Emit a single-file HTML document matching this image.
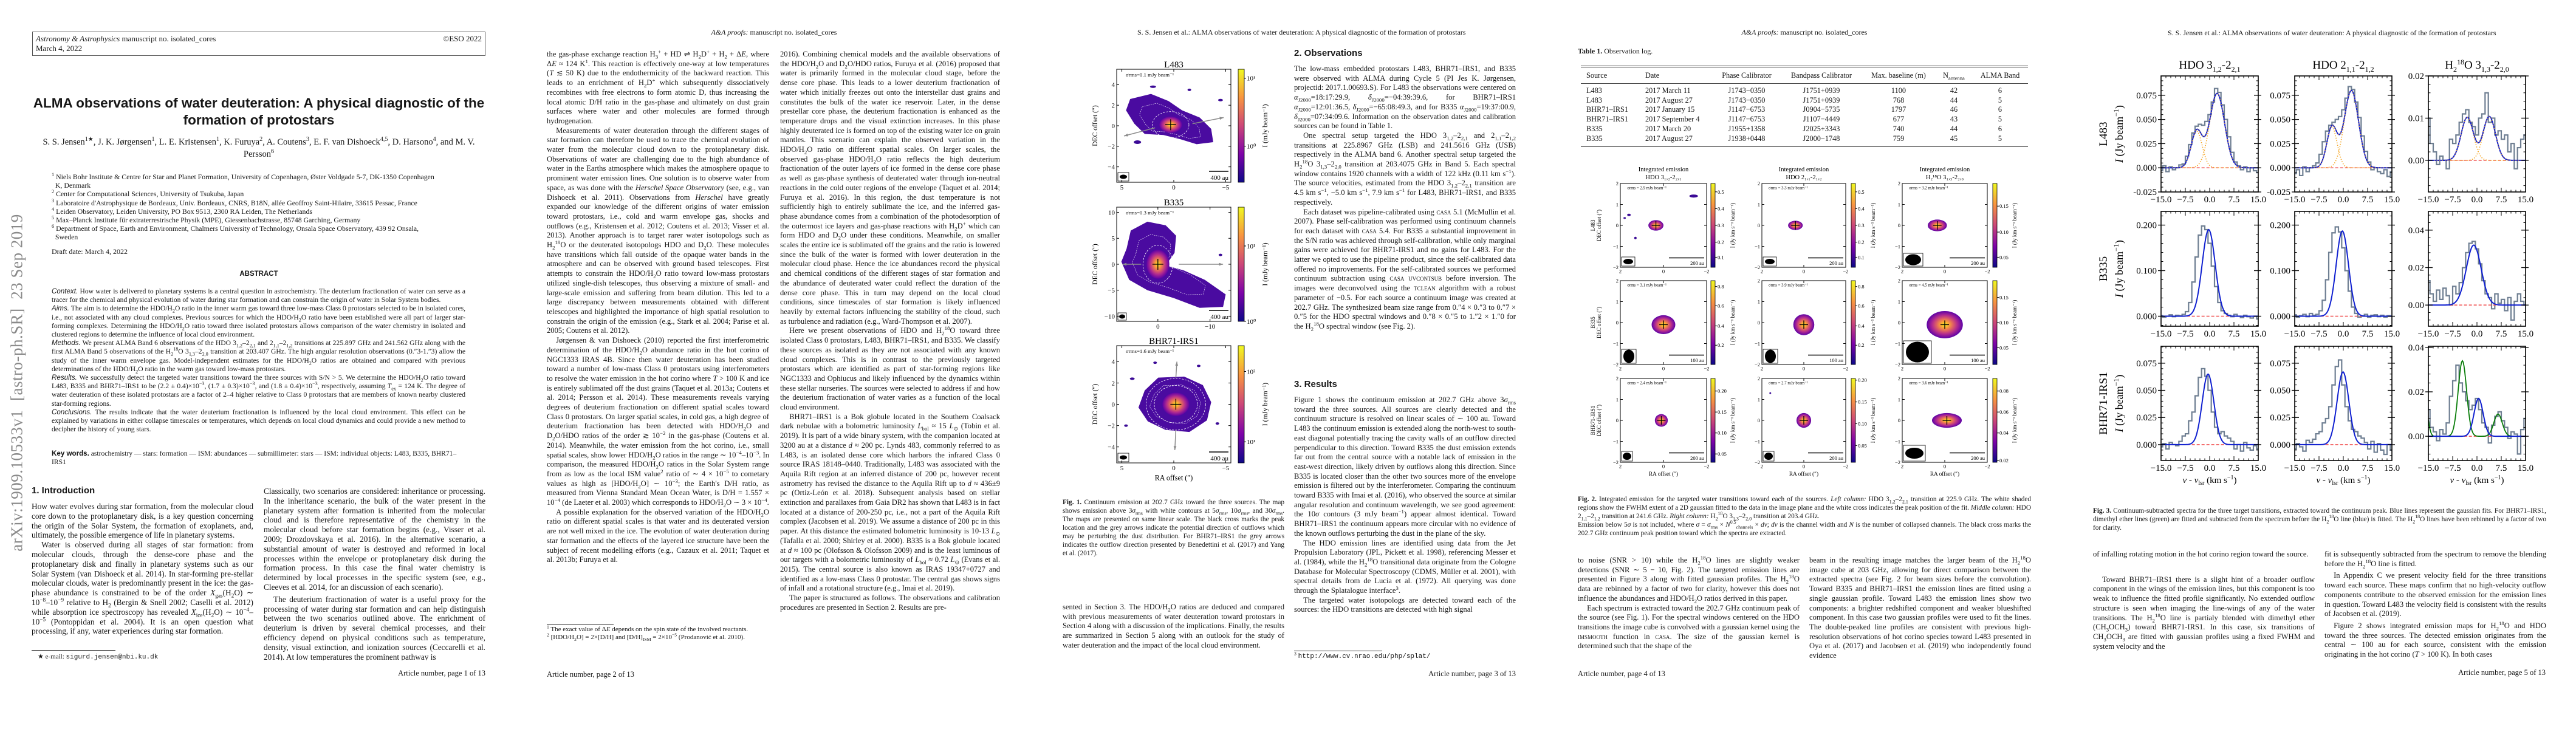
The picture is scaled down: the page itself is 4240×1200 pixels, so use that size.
<!DOCTYPE html>
<html><head><meta charset="utf-8">
<style>
*{box-sizing:border-box}
body{margin:0;background:#fff}
#root{position:relative;width:4240px;height:1200px;overflow:hidden;background:#fff;font-family:"Liberation Serif",serif;color:#161616}
.abs{position:absolute}
.col{position:absolute;font-family:"Liberation Serif",serif;text-align:justify;overflow:hidden;font-size:12.6px;line-height:15.7px;hyphens:auto}
.col p{margin:0;text-indent:1.2em}
.col p.ni{text-indent:0}
sub,sup{line-height:0;font-size:70%}
.hdr{position:absolute;font-size:12px;text-align:center;white-space:nowrap}
.foot{position:absolute;font-size:12.5px;white-space:nowrap}
.sec{position:absolute;font-family:"Liberation Sans",sans-serif;font-weight:bold;font-size:15px}
.cap{position:absolute;font-size:11.3px;line-height:14px;text-align:justify;overflow:hidden}
.sc{font-variant:small-caps}
svg text{font-family:"Liberation Serif",serif}
</style></head>
<body>
<div id="root">

<!-- ================= PAGE 1 ================= -->
<div class="abs" style="left:53px;top:52px;width:746px;height:40px;border:1px solid #555;font-size:13px;line-height:16px;padding:3px 5px">
<div><i>Astronomy &amp; Astrophysics</i> manuscript no. isolated_cores<span style="float:right">©ESO 2022</span></div>
<div>March 4, 2022</div></div>
<div class="abs" style="left:40px;top:156px;width:772px;text-align:center;font-family:'Liberation Sans',sans-serif;font-weight:bold;font-size:22.5px;line-height:28px">ALMA observations of water deuteration: A physical diagnostic of the formation of protostars</div>
<div class="abs" style="left:52px;top:224px;width:748px;text-align:center;font-size:14.5px;line-height:20px">S. S. Jensen<sup>1★</sup>, J. K. Jørgensen<sup>1</sup>, L. E. Kristensen<sup>1</sup>, K. Furuya<sup>2</sup>, A. Coutens<sup>3</sup>, E. F. van Dishoeck<sup>4,5</sup>, D. Harsono<sup>4</sup>, and M. V. Persson<sup>6</sup></div>
<div class="abs" style="left:85px;top:284px;width:700px;font-size:11.8px;line-height:14.2px">
<div><sup>1</sup> Niels Bohr Institute &amp; Centre for Star and Planet Formation, University of Copenhagen, Øster Voldgade 5-7, DK-1350 Copenhagen<br>&nbsp;&nbsp;K, Denmark</div>
<div><sup>2</sup> Center for Computational Sciences, University of Tsukuba, Japan</div>
<div><sup>3</sup> Laboratoire d'Astrophysique de Bordeaux, Univ. Bordeaux, CNRS, B18N, allée Geoffroy Saint-Hilaire, 33615 Pessac, France</div>
<div><sup>4</sup> Leiden Observatory, Leiden University, PO Box 9513, 2300 RA Leiden, The Netherlands</div>
<div><sup>5</sup> Max–Planck Institute für extraterrestrische Physik (MPE), Giessenbachstrasse, 85748 Garching, Germany</div>
<div><sup>6</sup> Department of Space, Earth and Environment, Chalmers University of Technology, Onsala Space Observatory, 439 92 Onsala,<br>&nbsp;&nbsp;Sweden</div></div>
<div class="abs" style="left:85px;top:407px;font-size:12px">Draft date: March 4, 2022</div>
<div class="abs" style="left:52px;top:445px;width:748px;text-align:center;font-family:'Liberation Sans',sans-serif;font-weight:bold;font-size:11.5px">ABSTRACT</div>
<div class="col" style="left:85px;top:473px;width:681px;height:258px;font-size:11.6px;line-height:14.2px">
<p class="ni"><i style="font-family:'Liberation Sans'">Context.</i> How water is delivered to planetary systems is a central question in astrochemistry. The deuterium fractionation of water can serve as a tracer for the chemical and physical evolution of water during star formation and can constrain the origin of water in Solar System bodies.</p>
<p class="ni"><i style="font-family:'Liberation Sans'">Aims.</i> The aim is to determine the HDO/H<sub>2</sub>O ratio in the inner warm gas toward three low-mass Class 0 protostars selected to be in isolated cores, i.e., not associated with any cloud complexes. Previous sources for which the HDO/H<sub>2</sub>O ratio have been established were all part of larger star-forming complexes. Determining the HDO/H<sub>2</sub>O ratio toward three isolated protostars allows comparison of the water chemistry in isolated and clustered regions to determine the influence of local cloud environment.</p>
<p class="ni"><i style="font-family:'Liberation Sans'">Methods.</i> We present ALMA Band 6 observations of the HDO 3<sub>1,2</sub>–2<sub>2,1</sub> and 2<sub>1,1</sub>–2<sub>1,2</sub> transitions at 225.897 GHz and 241.562 GHz along with the first ALMA Band 5 observations of the H<sub>2</sub><sup>18</sup>O 3<sub>1,3</sub>–2<sub>2,0</sub> transition at 203.407 GHz. The high angular resolution observations (0.″3-1.″3) allow the study of the inner warm envelope gas. Model-independent estimates for the HDO/H<sub>2</sub>O ratios are obtained and compared with previous determinations of the HDO/H<sub>2</sub>O ratio in the warm gas toward low-mass protostars.</p>
<p class="ni"><i style="font-family:'Liberation Sans'">Results.</i> We successfully detect the targeted water transitions toward the three sources with S/N &gt; 5. We determine the HDO/H<sub>2</sub>O ratio toward L483, B335 and BHR71–IRS1 to be (2.2 ± 0.4)×10<sup>−3</sup>, (1.7 ± 0.3)×10<sup>−3</sup>, and (1.8 ± 0.4)×10<sup>−3</sup>, respectively, assuming <i>T</i><sub>ex</sub> = 124 K. The degree of water deuteration of these isolated protostars are a factor of 2–4 higher relative to Class 0 protostars that are members of known nearby clustered star-forming regions.</p>
<p class="ni"><i style="font-family:'Liberation Sans'">Conclusions.</i> The results indicate that the water deuterium fractionation is influenced by the local cloud environment. This effect can be explained by variations in either collapse timescales or temperatures, which depends on local cloud dynamics and could provide a new method to decipher the history of young stars.</p></div>
<div class="abs" style="left:85px;top:740px;width:681px;font-size:11.6px;line-height:14.2px"><b style="font-family:'Liberation Sans'">Key words.</b> astrochemistry — stars: formation — ISM: abundances — submillimeter: stars — ISM: individual objects: L483, B335, BHR71–IRS1</div>
<div class="sec" style="left:52px;top:799px">1. Introduction</div>
<div class="col" style="left:52px;top:826px;width:365px;height:238px;font-size:13.3px;line-height:15.8px">
<p class="ni">How water evolves during star formation, from the molecular cloud core down to the protoplanetary disk, is a key question concerning the origin of the Solar System, the formation of exoplanets, and, ultimately, the possible emergence of life in planetary systems.</p>
<p>Water is observed during all stages of star formation: from molecular clouds, through the dense-core phase and the protoplanetary disk and finally in planetary systems such as our Solar System (van Dishoeck et al. 2014). In star-forming pre-stellar molecular clouds, water is predominantly present in the ice: the gas-phase abundance is constrained to be of the order <i>X</i><sub>gas</sub>(H<sub>2</sub>O) ∼ 10<sup>−8</sup>–10<sup>−9</sup> relative to H<sub>2</sub> (Bergin &amp; Snell 2002; Caselli et al. 2012) while absorption ice spectroscopy has revealed <i>X</i><sub>ice</sub>(H<sub>2</sub>O) ∼ 10<sup>−4</sup>–10<sup>−5</sup> (Pontoppidan et al. 2004). It is an open question what processing, if any, water experiences during star formation.</p></div>
<div class="abs" style="left:52px;top:1070px;width:138px;border-top:1px solid #333"></div>
<div class="abs" style="left:62px;top:1074px;font-size:11px">★ e-mail: <span style="font-family:'Liberation Mono'">sigurd.jensen@nbi.ku.dk</span></div>
<div class="col" style="left:434px;top:801px;width:365px;height:286px;font-size:13.3px;line-height:15.8px">
<p class="ni">Classically, two scenarios are considered: inheritance or processing. In the inheritance scenario, the bulk of the water present in the planetary system after formation is inherited from the molecular cloud and is therefore representative of the chemistry in the molecular cloud before star formation begins (e.g., Visser et al. 2009; Drozdovskaya et al. 2016). In the alternative scenario, a substantial amount of water is destroyed and reformed in local processes within the envelope or protoplanetary disk during the formation process. In this case the final water chemistry is determined by local processes in the specific system (see, e.g., Cleeves et al. 2014, for an discussion of each scenario).</p>
<p style="margin-top:4px">The deuterium fractionation of water is a useful proxy for the processing of water during star formation and can help distinguish between the two scenarios outlined above. The enrichment of deuterium is driven by several chemical processes, and their efficiency depend on physical conditions such as temperature, density, visual extinction, and ionization sources (Ceccarelli et al. 2014). At low temperatures the prominent pathway is</p></div>
<div class="foot" style="left:599px;width:200px;text-align:right;top:1101px">Article number, page 1 of 13</div>
<div class="abs" style="left:28px;top:630px;transform:translate(-50%,-50%) rotate(-90deg);white-space:nowrap;font-size:27px;color:#8a8a8a;letter-spacing:0.5px">arXiv:1909.10533v1&nbsp; [astro-ph.SR]&nbsp; 23 Sep 2019</div>

<!-- ================= PAGE 2 ================= -->
<div class="hdr" style="left:1074px;width:400px;top:46px"><i>A&amp;A proofs:</i> manuscript no. isolated_cores</div>
<div class="col" style="left:900px;top:82px;width:366px;height:934px">
<p class="ni">the gas-phase exchange reaction H<sub>3</sub><sup>+</sup> + HD ⇌ H<sub>2</sub>D<sup>+</sup> + H<sub>2</sub> + Δ<i>E</i>, where Δ<i>E</i> ≈ 124 K<sup>1</sup>. This reaction is effectively one-way at low temperatures (<i>T</i> ≲ 50 K) due to the endothermicity of the backward reaction. This leads to an enrichment of H<sub>2</sub>D<sup>+</sup> which subsequently dissociatively recombines with free electrons to form atomic D, thus increasing the local atomic D/H ratio in the gas-phase and ultimately on dust grain surfaces where water and other molecules are formed through hydrogenation.</p>
<p>Measurements of water deuteration through the different stages of star formation can therefore be used to trace the chemical evolution of water from the molecular cloud down to the protoplanetary disk. Observations of water are challenging due to the high abundance of water in the Earths atmosphere which makes the atmosphere opaque to prominent water emission lines. One solution is to observe water from space, as was done with the <i>Herschel Space Observatory</i> (see, e.g., van Dishoeck et al. 2011). Observations from <i>Herschel</i> have greatly expanded our knowledge of the different origins of water emission toward protostars, i.e., cold and warm envelope gas, shocks and outflows (e.g., Kristensen et al. 2012; Coutens et al. 2013; Visser et al. 2013). Another approach is to target rarer water isotopologs such as H<sub>2</sub><sup>18</sup>O or the deuterated isotopologs HDO and D<sub>2</sub>O. These molecules have transitions which fall outside of the opaque water bands in the atmosphere and can be observed with ground based telescopes. First attempts to constrain the HDO/H<sub>2</sub>O ratio toward low-mass protostars utilized single-dish telescopes, thus observing a mixture of small- and large-scale emission and suffering from beam dilution. This led to a large discrepancy between measurements obtained with different telescopes and highlighted the importance of high spatial resolution to constrain the origin of the emission (e.g., Stark et al. 2004; Parise et al. 2005; Coutens et al. 2012).</p>
<p>Jørgensen &amp; van Dishoeck (2010) reported the first interferometric determination of the HDO/H<sub>2</sub>O abundance ratio in the hot corino of NGC1333 IRAS 4B. Since then water deuteration has been studied toward a number of low-mass Class 0 protostars using interferometers to resolve the water emission in the hot corino where <i>T</i> &gt; 100 K and ice is entirely sublimated off the dust grains (Taquet et al. 2013a; Coutens et al. 2014; Persson et al. 2014). These measurements reveals varying degrees of deuterium fractionation on different spatial scales toward Class 0 protostars. On larger spatial scales, in cold gas, a high degree of deuterium fractionation has been detected with HDO/H<sub>2</sub>O and D<sub>2</sub>O/HDO ratios of the order ≳ 10<sup>−2</sup> in the gas-phase (Coutens et al. 2014). Meanwhile, the water emission from the hot corino, i.e., small spatial scales, show lower HDO/H<sub>2</sub>O ratios in the range ∼ 10<sup>−4</sup>–10<sup>−3</sup>. In comparison, the measured HDO/H<sub>2</sub>O ratios in the Solar System range from as low as the local ISM value<sup>2</sup> ratio of ∼ 4 × 10<sup>−5</sup> to cometary values as high as [HDO/H<sub>2</sub>O] ∼ 10<sup>−3</sup>; the Earth's D/H ratio, as measured from Vienna Standard Mean Ocean Water, is D/H = 1.557 × 10<sup>−4</sup> (de Laeter et al. 2003) which corresponds to HDO/H<sub>2</sub>O ∼ 3 × 10<sup>−4</sup>.</p>
<p>A possible explanation for the observed variation of the HDO/H<sub>2</sub>O ratio on different spatial scales is that water and its deuterated version are not well mixed in the ice. The evolution of water deuteration during star formation and the effects of the layered ice structure have been the subject of recent modelling efforts (e.g., Cazaux et al. 2011; Taquet et al. 2013b; Furuya et al.</p></div>
<div class="abs" style="left:900px;top:1027px;width:110px;border-top:1px solid #333"></div>
<div class="abs" style="left:900px;top:1030px;width:366px;font-size:11px;line-height:12.5px;text-align:justify"><sup>1</sup> The exact value of Δ<i>E</i> depends on the spin state of the involved reactants.<br><sup>2</sup> [HDO/H<sub>2</sub>O] = 2×[D/H] and [D/H]<sub>ISM</sub> = 2×10<sup>−5</sup> (Prodanović et al. 2010).</div>
<div class="foot" style="left:900px;top:1103px">Article number, page 2 of 13</div>
<div class="col" style="left:1284px;top:82px;width:362px;height:1006px">
<p class="ni">2016). Combining chemical models and the available observations of the HDO/H<sub>2</sub>O and D<sub>2</sub>O/HDO ratios, Furuya et al. (2016) proposed that water is primarily formed in the molecular cloud stage, before the dense core phase. This leads to a lower deuterium fractionation of water which initially freezes out onto the interstellar dust grains and constitutes the bulk of the water ice reservoir. Later, in the dense prestellar core phase, the deuterium fractionation is enhanced as the temperature drops and the visual extinction increases. In this phase highly deuterated ice is formed on top of the existing water ice on grain mantles. This scenario can explain the observed variation in the HDO/H<sub>2</sub>O ratio on different spatial scales. On larger scales, the observed gas-phase HDO/H<sub>2</sub>O ratio reflects the high deuterium fractionation of the outer layers of ice formed in the dense core phase as well as gas-phase synthesis of deuterated water through ion-neutral reactions in the cold outer regions of the envelope (Taquet et al. 2014; Furuya et al. 2016). In this region, the dust temperature is not sufficiently high to entirely sublimate the ice, and the inferred gas-phase abundance comes from a combination of the photodesorption of the outermost ice layers and gas-phase reactions with H<sub>2</sub>D<sup>+</sup> which can form HDO and D<sub>2</sub>O under these conditions. Meanwhile, on smaller scales the entire ice is sublimated off the grains and the ratio is lowered since the bulk of the water is formed with lower deuteration in the molecular cloud phase. Hence the ice abundances record the physical and chemical conditions of the different stages of star formation and the abundance of deuterated water could reflect the duration of the dense core phase. This in turn may depend on the local cloud conditions, since timescales of star formation is likely influenced heavily by external factors influencing the stability of the cloud, such as turbulence and radiation (e.g., Ward-Thompson et al. 2007).</p>
<p>Here we present observations of HDO and H<sub>2</sub><sup>18</sup>O toward three isolated Class 0 protostars, L483, BHR71–IRS1, and B335. We classify these sources as isolated as they are not associated with any known cloud complexes. This is in contrast to the previously targeted protostars which are identified as part of star-forming regions like NGC1333 and Ophiucus and likely influenced by the dynamics within these stellar nurseries. The sources were selected to address if and how the deuterium fractionation of water varies as a function of the local cloud environment.</p>
<p>BHR71–IRS1 is a Bok globule located in the Southern Coalsack dark nebulae with a bolometric luminosity <i>L</i><sub>bol</sub> ≈ 15 <i>L</i><sub>⊙</sub> (Tobin et al. 2019). It is part of a wide binary system, with the companion located at 3200 au at a distance <i>d</i> ≈ 200 pc. Lynds 483, commonly referred to as L483, is an isolated dense core which harbors the infrared Class 0 source IRAS 18148–0440. Traditionally, L483 was associated with the Aquila Rift region at an inferred distance of 200 pc, however recent astrometry has revised the distance to the Aquila Rift up to <i>d</i> ≈ 436±9 pc (Ortiz-León et al. 2018). Subsequent analysis based on stellar extinction and parallaxes from Gaia DR2 has shown that L483 is in fact located at a distance of 200-250 pc, i.e., not a part of the Aquila Rift complex (Jacobsen et al. 2019). We assume a distance of 200 pc in this paper. At this distance the estimated bolometric luminosity is 10-13 <i>L</i><sub>⊙</sub> (Tafalla et al. 2000; Shirley et al. 2000). B335 is a Bok globule located at <i>d</i> ≈ 100 pc (Olofsson &amp; Olofsson 2009) and is the least luminous of our targets with a bolometric luminosity of <i>L</i><sub>bol</sub> ≈ 0.72 <i>L</i><sub>⊙</sub> (Evans et al. 2015). The central source is also known as IRAS 19347+0727 and identified as a low-mass Class 0 protostar. The central gas shows signs of infall and a rotational structure (e.g., Imai et al. 2019).</p>
<p>The paper is structured as follows. The observations and calibration procedures are presented in Section 2. Results are pre-</p></div>

<!-- ================= PAGE 3 ================= -->
<div class="hdr" style="left:1872px;width:500px;top:46px">S. S. Jensen et al.: ALMA observations of water deuteration: A physical diagnostic of the formation of protostars</div>
<svg class="abs" id="fig1" style="left:1690px;top:80px" width="460" height="720"></svg>
<div class="cap" style="left:1749px;top:820px;width:365px;height:100px"><b>Fig. 1.</b> Continuum emission at 202.7 GHz toward the three sources. The map shows emission above 3<i>σ</i><sub>rms</sub> with white contours at 5<i>σ</i><sub>rms</sub>, 10<i>σ</i><sub>rms</sub>, and 30<i>σ</i><sub>rms</sub>. The maps are presented on same linear scale. The black cross marks the peak location and the grey arrows indicate the potential direction of outflows which may be perturbing the dust distribution. For BHR71–IRS1 the grey arrows indicates the outflow direction presented by Benedettini et al. (2017) and Yang et al. (2017).</div>
<div class="col" style="left:1749px;top:992px;width:365px;height:96px">
<p class="ni">sented in Section 3. The HDO/H<sub>2</sub>O ratios are deduced and compared with previous measurements of water deuteration toward protostars in Section 4 along with a discussion of the implications. Finally, the results are summarized in Section 5 along with an outlook for the study of water deuteration and the impact of the local cloud environment.</p></div>
<div class="sec" style="left:2130px;top:79px">2. Observations</div>
<div class="col" style="left:2130px;top:106px;width:365px;height:488px">
<p class="ni">The low-mass embedded protostars L483, BHR71–IRS1, and B335 were observed with ALMA during Cycle 5 (PI Jes K. Jørgensen, projectid: 2017.1.00693.S). For L483 the observations were centered on <i>α</i><sub>J2000</sub>=18:17:29.9, <i>δ</i><sub>J2000</sub>=−04:39:39.6, for BHR71–IRS1 <i>α</i><sub>J2000</sub>=12:01:36.5, <i>δ</i><sub>J2000</sub>=−65:08:49.3, and for B335 <i>α</i><sub>J2000</sub>=19:37:00.9, <i>δ</i><sub>J2000</sub>=07:34:09.6. Information on the observation dates and calibration sources can be found in Table 1.</p>
<p>One spectral setup targeted the HDO 3<sub>1,2</sub>–2<sub>2,1</sub> and 2<sub>1,1</sub>–2<sub>1,2</sub> transitions at 225.8967 GHz (LSB) and 241.5616 GHz (USB) respectively in the ALMA band 6. Another spectral setup targeted the H<sub>2</sub><sup>18</sup>O 3<sub>1,3</sub>–2<sub>2,0</sub> transition at 203.4075 GHz in Band 5. Each spectral window contains 1920 channels with a width of 122 kHz (0.11 km s<sup>−1</sup>). The source velocities, estimated from the HDO 3<sub>1,2</sub>–2<sub>2,1</sub> transition are 4.5 km s<sup>−1</sup>, −5.0 km s<sup>−1</sup>, 7.9 km s<sup>−1</sup> for L483, BHR71–IRS1, and B335 respectively.</p>
<p>Each dataset was pipeline-calibrated using <span class="sc">casa</span> 5.1 (McMullin et al. 2007). Phase self-calibration was performed using continuum channels for each dataset with <span class="sc">casa</span> 5.4. For B335 a substantial improvement in the S/N ratio was achieved through self-calibration, while only marginal gains were achieved for BHR71-IRS1 and no gains for L483. For the latter we opted to use the pipeline product, since the self-calibrated data offered no improvements. For the self-calibrated sources we performed continuum subtraction using <span class="sc">casa uvcontsub</span> before inversion. The images were deconvolved using the <span class="sc">tclean</span> algorithm with a robust parameter of −0.5. For each source a continuum image was created at 202.7 GHz. The synthesized beam size range from 0.″4 × 0.″3 to 0.″7 × 0.″5 for the HDO spectral windows and 0.″8 × 0.″5 to 1.″2 × 1.″0 for the H<sub>2</sub><sup>18</sup>O spectral window (see Fig. 2).</p></div>
<div class="sec" style="left:2130px;top:624px">3. Results</div>
<div class="col" style="left:2130px;top:651px;width:365px;height:411px">
<p class="ni">Figure 1 shows the continuum emission at 202.7 GHz above 3<i>σ</i><sub>rms</sub> toward the three sources. All sources are clearly detected and the continuum structure is resolved on linear scales of ∼ 100 au. Toward L483 the continuum emission is extended along the north-west to south-east diagonal potentially tracing the cavity walls of an outflow directed perpendicular to this direction. Toward B335 the dust emission extends far out from the central source with a notable lack of emission in the east-west direction, likely driven by outflows along this direction. Since B335 is located closer than the other two sources more of the envelope emission is filtered out by the interferometer. Comparing the continuum toward B335 with Imai et al. (2016), who observed the source at similar angular resolution and continuum wavelength, we see good agreement: the 10<i>σ</i> contours (3 mJy beam<sup>−1</sup>) appear almost identical. Toward BHR71–IRS1 the continuum appears more circular with no evidence of the known outflows perturbing the dust in the plane of the sky.</p>
<p>The HDO emission lines are identified using data from the Jet Propulsion Laboratory (JPL, Pickett et al. 1998), referencing Messer et al. (1984), while the H<sub>2</sub><sup>18</sup>O transitional data originate from the Cologne Database for Molecular Spectroscopy (CDMS, Müller et al. 2001), with spectral details from de Lucia et al. (1972). All querying was done through the Splatalogue interface<sup>3</sup>.</p>
<p>The targeted water isotopologs are detected toward each of the sources: the HDO transitions are detected with high signal</p></div>
<div class="abs" style="left:2130px;top:1071px;width:145px;border-top:1px solid #333"></div>
<div class="abs" style="left:2130px;top:1074px;font-size:11px"><sup>3</sup> <span style="font-family:'Liberation Mono'">http://www.cv.nrao.edu/php/splat/</span></div>
<div class="foot" style="left:2295px;width:200px;text-align:right;top:1102px">Article number, page 3 of 13</div>

<!-- ================= PAGE 4 ================= -->
<div class="hdr" style="left:2770px;width:400px;top:46px"><i>A&amp;A proofs:</i> manuscript no. isolated_cores</div>
<div class="abs" style="left:2597px;top:77px;font-size:12px"><b>Table 1.</b> Observation log.</div>
<div class="abs" style="left:2602px;top:108px;width:736px;height:134px;border-top:3px double #444;border-bottom:1px solid #444;font-size:12.3px">
<div class="abs" style="left:0;top:26px;width:736px;border-top:1px solid #444"></div>
<div id="tbl"></div></div>
<svg class="abs" id="fig2" style="left:2580px;top:262px" width="780" height="540"></svg>
<div class="cap" style="left:2597px;top:815px;width:746px;height:72px"><b>Fig. 2.</b> Integrated emission for the targeted water transitions toward each of the sources. <i>Left column:</i> HDO 3<sub>1,2</sub>–2<sub>2,1</sub> transition at 225.9 GHz. The white shaded regions show the FWHM extent of a 2D gaussian fitted to the data in the image plane and the white cross indicates the peak position of the fit. <i>Middle column:</i> HDO 2<sub>1,1</sub>–2<sub>1,2</sub> transition at 241.6 GHz. <i>Right column:</i> H<sub>2</sub><sup>18</sup>O 3<sub>1,3</sub>–2<sub>2,0</sub> transition at 203.4 GHz.<br>Emission below 5<i>σ</i> is not included, where <i>σ</i> = <i>σ</i><sub>rms</sub> × <i>N</i><sup>0.5</sup><sub>channels</sub> × <i>dv</i>; <i>dv</i> is the channel width and <i>N</i> is the number of collapsed channels. The black cross marks the 202.7 GHz continuum peak position toward which the spectra are extracted.</div>
<div class="col" style="left:2597px;top:915px;width:365px;height:173px">
<p class="ni">to noise (SNR &gt; 10) while the H<sub>2</sub><sup>18</sup>O lines are slightly weaker detections (SNR ∼ 5 − 10, Fig. 2). The targeted emission lines are presented in Figure 3 along with fitted gaussian profiles. The H<sub>2</sub><sup>18</sup>O data are rebinned by a factor of two for clarity, however this does not influence the abundances and HDO/H<sub>2</sub>O ratios derived in this paper.</p>
<p>Each spectrum is extracted toward the 202.7 GHz continuum peak of the source (see Fig. 1). For the spectral windows centered on the HDO transitions the image cube is convolved with a gaussian kernel using the <span class="sc">imsmooth</span> function in <span class="sc">casa</span>. The size of the gaussian kernel is determined such that the shape of the</p></div>
<div class="col" style="left:2978px;top:915px;width:365px;height:173px">
<p class="ni">beam in the resulting image matches the larger beam of the H<sub>2</sub><sup>18</sup>O image cube at 203 GHz, allowing for direct comparison between the extracted spectra (see Fig. 2 for beam sizes before the convolution). Toward B335 and BHR71–IRS1 the emission lines are fitted using a single gaussian profile. Toward L483 the emission lines show two components: a brighter redshifted component and weaker blueshifted component. In this case two gaussian profiles were used to fit the lines. The double-peaked line profiles are consistent with previous high-resolution observations of hot corino species toward L483 presented in Oya et al. (2017) and Jacobsen et al. (2019) who independently found evidence</p></div>
<div class="foot" style="left:2597px;top:1102px">Article number, page 4 of 13</div>

<!-- ================= PAGE 5 ================= -->
<div class="hdr" style="left:3568px;width:500px;top:47px">S. S. Jensen et al.: ALMA observations of water deuteration: A physical diagnostic of the formation of protostars</div>
<svg class="abs" id="fig3" style="left:3420px;top:90px" width="800" height="720"></svg>
<div class="cap" style="left:3445px;top:834px;width:746px;height:44px"><b>Fig. 3.</b> Continuum-subtracted spectra for the three target transitions, extracted toward the continuum peak. Blue lines represent the gaussian fits. For BHR71–IRS1, dimethyl ether lines (green) are fitted and subtracted from the spectrum before the H<sub>2</sub><sup>18</sup>O line (blue) is fitted. The H<sub>2</sub><sup>18</sup>O lines have been rebinned by a factor of two for clarity.</div>
<div class="col" style="left:3445px;top:905px;width:365px;height:183px">
<p class="ni">of infalling rotating motion in the hot corino region toward the source.</p>
<p style="margin-top:26px">Toward BHR71–IRS1 there is a slight hint of a broader outflow component in the wings of the emission lines, but this component is too weak to influence the fitted profile significantly. No extended outflow structure is seen when imaging the line-wings of any of the water transitions. The H<sub>2</sub><sup>18</sup>O line is partialy blended with dimethyl ether (CH<sub>3</sub>OCH<sub>3</sub>) toward BHR71-IRS1. In this case, six transitions of CH<sub>3</sub>OCH<sub>3</sub> are fitted with gaussian profiles using a fixed FWHM and system velocity and the</p></div>
<div class="col" style="left:3826px;top:905px;width:365px;height:183px">
<p class="ni">fit is subsequently subtracted from the spectrum to remove the blending before the H<sub>2</sub><sup>18</sup>O line is fitted.</p>
<p style="margin-top:4px">In Appendix C we present velocity field for the three transitions toward each source. These maps confirm that no high-velocity outflow components contribute to the observed emission for the emission lines in question. Toward L483 the velocity field is consistent with the results of Jacobsen et al. (2019).</p>
<p style="margin-top:4px">Figure 2 shows integrated emission maps for H<sub>2</sub><sup>18</sup>O and HDO toward the three sources. The detected emission originates from the central ∼ 100 au for each source, consistent with the emission originating in the hot corino (<i>T</i> &gt; 100 K). In both cases</p></div>
<div class="foot" style="left:3990px;width:200px;text-align:right;top:1100px">Article number, page 5 of 13</div>
</div>

<script>
// ---------- Table 1 data ----------
const tblSources = ["L483","L483","BHR71–IRS1","BHR71–IRS1","B335","B335"];
const tblDates = ["2017 March 11","2017 August 27","2017 January 15","2017 September 4","2017 March 20","2017 August 27"];
const tblPhaseCal = ["J1743−0350","J1743−0350","J1147−6753","J1147−6753","J1955+1358","J1938+0448"];
const tblBandpass = ["J1751+0939","J1751+0939","J0904−5735","J1107−4449","J2025+3343","J2000−1748"];
const tblBaseline = ["1100","768","1797","677","740","759"];
const tblAntenna = ["42","44","46","43","44","45"];
const tblBand = ["6","5","6","5","6","5"];

// ---------- Figure 3 spectra data ----------
const vel = [-15,-14,-13,-12,-11,-10,-9,-8,-7,-6,-5,-4,-3,-2,-1,0,1,2,3,4,5,6,7,8,9,10,11,12,13,14,15];
const xTickValues = [-15,-7.5,0,7.5,15];
const xTickLabels = ["−15.0","−7.5","0.0","7.5","15.0"];
const specL483a = [-0.003,0.002,-0.004,0.001,-0.002,0.000,0.003,0.004,0.012,0.024,0.036,0.043,0.045,0.044,0.048,0.055,0.068,0.082,0.078,0.065,0.050,0.032,0.016,0.006,0.002,-0.002,0.001,-0.004,0.000,-0.003,-0.005];
const specL483b = [-0.006,-0.002,-0.008,0.001,-0.004,0.000,0.002,0.005,0.014,0.027,0.038,0.044,0.047,0.050,0.053,0.060,0.072,0.084,0.081,0.068,0.052,0.033,0.017,0.006,-0.002,0.000,-0.004,-0.006,-0.002,-0.009,-0.004];
const specL483c = [0.010,0.004,0.002,-0.001,0.001,0.000,-0.002,0.005,0.004,0.006,0.009,0.011,0.012,0.009,0.008,0.006,0.010,0.011,0.016,0.009,0.010,0.006,0.007,0.005,0.006,0.002,0.004,-0.002,0.003,0.005,0.006];
const specB335a = [0.001,-0.002,0.000,0.003,-0.001,0.002,0.001,0.004,0.010,0.030,0.075,0.130,0.178,0.198,0.190,0.160,0.110,0.065,0.030,0.012,0.006,0.002,-0.001,0.004,0.000,-0.003,0.002,-0.001,-0.004,0.000,-0.006];
const specB335b = [0.003,-0.002,0.001,0.004,-0.001,0.006,0.002,0.004,0.012,0.035,0.080,0.140,0.183,0.196,0.185,0.150,0.100,0.055,0.020,0.006,-0.002,0.000,0.004,-0.002,0.002,0.003,-0.001,0.002,-0.002,0.001,0.000];
const specB335c = [0.013,0.006,0.002,0.008,0.003,0.009,0.005,0.000,0.010,0.006,0.012,0.020,0.028,0.033,0.034,0.030,0.022,0.013,0.006,0.004,-0.002,0.006,0.001,0.003,-0.003,0.004,-0.008,0.002,0.006,0.002,0.000];
const specBHRa = [-0.002,0.001,-0.004,0.002,0.000,-0.001,0.003,0.008,0.010,0.022,0.030,0.045,0.062,0.070,0.063,0.050,0.030,0.016,0.010,0.012,0.008,0.006,0.003,-0.004,0.000,-0.006,0.002,-0.003,-0.005,-0.001,-0.004];
const specBHRb = [-0.004,0.001,-0.002,-0.006,0.004,0.002,0.005,0.010,0.012,0.020,0.024,0.035,0.055,0.072,0.078,0.055,0.035,0.022,0.014,0.012,0.008,0.006,0.002,-0.004,0.003,-0.007,0.001,-0.005,-0.009,0.000,-0.005];
const specBHRc = [0.012,0.004,0.002,-0.002,0.003,0.001,0.006,0.018,0.025,0.032,0.024,0.020,0.016,0.012,0.014,0.017,0.012,0.006,0.004,-0.003,0.005,0.009,0.011,0.007,0.004,-0.001,0.002,0.001,-0.008,0.003,0.008];
// gaussian fit components: amplitude, centre (km/s), sigma (km/s)
const fitAmpL483a = [0.038,0.077], fitCenL483a = [-4.0,2.3], fitSigL483a = [1.7,2.3];
const fitAmpL483b = [0.042,0.080], fitCenL483b = [-3.5,2.5], fitSigL483b = [1.6,2.2];
const fitAmpL483c = [0.0102,0.0104], fitCenL483c = [-3.0,3.8], fitSigL483c = [1.9,1.9];
const fitAmpB335a = [0.190], fitCenB335a = [-0.3], fitSigB335a = [2.0];
const fitAmpB335b = [0.187], fitCenB335b = [-0.3], fitSigB335b = [1.9];
const fitAmpB335c = [0.032], fitCenB335c = [-1.0], fitSigB335c = [2.3];
const fitAmpBHRa = [0.065], fitCenBHRa = [-0.5], fitSigBHRa = [1.8];
const fitAmpBHRb = [0.067], fitCenBHRb = [-0.1], fitSigBHRb = [1.8];
const fitAmpBHRc = [0.017], fitCenBHRc = [0.5], fitSigBHRc = [1.4];
const dmeAmpBHRc = [0.034,0.010,0.012], dmeCenBHRc = [-4.5,6.5,-15.8], dmeSigBHRc = [1.3,1.3,0.8];
const yLimL483 = [-0.025,0.095], yTicksL483 = [-0.025,0,0.025,0.05,0.075], yLabL483 = ["-0.025","0.000","0.025","0.050","0.075"];
const yLimL483c = [-0.0075,0.02], yTicksL483c = [0,0.01,0.02], yLabL483c = ["0.00","0.01","0.02"];
const yLimB335 = [-0.022,0.23], yTicksB335 = [0,0.1,0.2], yLabB335 = ["0.000","0.100","0.200"];
const yLimB335c = [-0.0113,0.05], yTicksB335c = [0,0.02,0.04], yLabB335c = ["0.00","0.02","0.04"];
const yLimBHR = [-0.0146,0.0906], yTicksBHR = [0,0.025,0.05,0.075], yLabBHR = ["0.000","0.025","0.050","0.075"];
const yLimBHRc = [-0.0109,0.0405], yTicksBHRc = [0,0.02,0.04], yLabBHRc = ["0.00","0.02","0.04"];

const NS = "http://www.w3.org/2000/svg";
function mk(parent, tag, attrs, text){
  const e = document.createElementNS(NS, tag);
  for (const k in attrs) e.setAttribute(k, attrs[k]);
  if (text !== undefined) e.textContent = text;
  parent.appendChild(e);
  return e;
}

// ---------- Table ----------
(function(){
  const t = document.getElementById('tbl');
  const heads = [["Source",9,"left"],["Date",106,"left"],["Phase Calibrator",273,"center"],["Bandpass Calibrator",396,"center"],["Max. baseline (m)",523,"center"],["N<sub>antenna</sub>",614,"center"],["ALMA Band",690,"center"]];
  heads.forEach(h=>{
    const d = document.createElement('div');
    
    
    d.className='abs';
    d.style.top='6px';
    d.style.whiteSpace='nowrap';
    if(h[2]==='left'){d.style.left=h[1]+'px';} else {d.style.left=(h[1]-70)+'px';d.style.width='140px';d.style.textAlign='center';}
    d.innerHTML=h[0];
    t.appendChild(d);
  });
  const cols = [tblSources,tblDates,tblPhaseCal,tblBandpass,tblBaseline,tblAntenna,tblBand];
  for(let r=0;r<tblSources.length;r++){
    cols.forEach((c,i)=>{
      const d=document.createElement('div');
      
      
      d.className='abs';
      d.style.top=(31+r*15.7)+'px';
      d.style.whiteSpace='nowrap';
      const h=heads[i];
      if(h[2]==='left'){d.style.left=h[1]+'px';} else {d.style.left=(h[1]-70)+'px';d.style.width='140px';d.style.textAlign='center';}
      d.textContent=c[r];
      t.appendChild(d);
    });
  }
})();

// ---------- Plasma gradients ----------
function addDefs(svg, id){
  const defs = mk(svg,'defs',{});
  const rg = mk(defs,'radialGradient',{id:id,cx:'50%',cy:'50%',r:'50%'});
  [["0%","#f0f921"],["22%","#fca636"],["45%","#e16462"],["70%","#b12a90"],["100%","#5c01a6"]].forEach(s=>mk(rg,'stop',{offset:s[0],'stop-color':s[1]}));
  const lg = mk(defs,'linearGradient',{id:id+'cb',x1:'0',y1:'1',x2:'0',y2:'0'});
  [["0%","#0d0887"],["25%","#7e03a8"],["50%","#cc4778"],["75%","#f89540"],["100%","#f0f921"]].forEach(s=>mk(lg,'stop',{offset:s[0],'stop-color':s[1]}));
}

// ---------- Map panel ----------
function mapPanel(svg, gid, o){
  const g = mk(svg,'g',{});
  
  
  const sx = v => o.x + (o.xl - v)/(o.xl - o.xr)*o.w;
  const sy = v => o.y + (o.ytop - v)/(o.ytop - o.ybot)*o.h;
  const clipId = o.name+'-clip';
  const cp = mk(mk(g,'defs',{}),'clipPath',{id:clipId});
  mk(cp,'rect',{x:o.x,y:o.y,width:o.w,height:o.h});
  const inner = mk(g,'g',{'clip-path':'url(#'+clipId+')'});
  if (o.outline){
    const pts = o.outline.map(p=>sx(p[0])+','+sy(p[1])).join(' ');
    mk(inner,'polygon',{points:pts,fill:'#4a0ba0'});
    mk(inner,'polygon',{points:pts,fill:'none',stroke:'#fff','stroke-width':0.8,'stroke-dasharray':'3,2',transform:`translate(${sx(o.peak[0])},${sy(o.peak[1])}) scale(0.7) translate(${-sx(o.peak[0])},${-sy(o.peak[1])})`});
  }
  (o.specks||[]).forEach(p=>mk(inner,'ellipse',{cx:sx(p[0]),cy:sy(p[1]),rx:p[2],ry:p[3]||p[2]*0.6,fill:'#3b0a96'}));
  const pkx = sx(o.peak[0]), pky = sy(o.peak[1]);
  const rx = Math.abs(sx(0)-sx(o.blob[0])), ry = Math.abs(sy(0)-sy(o.blob[1]));
  mk(inner,'ellipse',{cx:pkx,cy:pky,rx:rx,ry:ry,fill:'url(#'+gid+')'});
  if (o.contours) { o.contours.forEach(f=>mk(inner,'ellipse',{cx:pkx,cy:pky,rx:rx*f,ry:ry*f,fill:'none',stroke:'#fff','stroke-width':0.8,'stroke-dasharray':'3,2'})); }
  (o.arrows||[]).forEach(a=>{
    const x1=sx(a[0]),y1=sy(a[1]),x2=sx(a[2]),y2=sy(a[3]);
    mk(inner,'line',{x1:x1,y1:y1,x2:x2,y2:y2,stroke:'#8c8c8c','stroke-width':1.5});
    const ang=Math.atan2(y2-y1,x2-x1), L=7;
    mk(inner,'polygon',{points:`${x2},${y2} ${x2-L*Math.cos(ang-0.35)},${y2-L*Math.sin(ang-0.35)} ${x2-L*Math.cos(ang+0.35)},${y2-L*Math.sin(ang+0.35)}`,fill:'#8c8c8c'});
  });
  const cs = o.cross;
  mk(inner,'line',{x1:pkx-cs,y1:pky,x2:pkx+cs,y2:pky,stroke:'#000','stroke-width':1.3});
  mk(inner,'line',{x1:pkx,y1:pky-cs,x2:pkx,y2:pky+cs,stroke:'#000','stroke-width':1.3});
  const bw=o.beam[2], bh=o.beam[3];
  mk(g,'rect',{x:o.x+2,y:o.y+o.h-bh-2,width:bw,height:bh,fill:'#fff',stroke:'#000','stroke-width':0.8});
  mk(g,'ellipse',{cx:o.x+2+bw/2,cy:o.y+o.h-2-bh/2,rx:o.beam[0],ry:o.beam[1],fill:'#000'});
  mk(g,'line',{x1:o.x+o.w-o.bar-4,y1:o.y+o.h-o.fs-7,x2:o.x+o.w-4,y2:o.y+o.h-o.fs-7,stroke:'#000','stroke-width':1.6});
  mk(g,'text',{x:o.x+o.w-4,y:o.y+o.h-4,'font-size':o.fs,'text-anchor':'end'},o.barText);
  mk(g,'text',{x:o.x+o.w*0.08,y:o.y+o.fs+1,'font-size':o.fs*0.8},o.rms);
  mk(g,'rect',{x:o.x,y:o.y,width:o.w,height:o.h,fill:'none',stroke:'#000','stroke-width':1});
  o.xt.forEach(v=>{ const X=sx(v);
    mk(g,'line',{x1:X,y1:o.y+o.h,x2:X,y2:o.y+o.h-4,stroke:'#000'}); mk(g,'line',{x1:X,y1:o.y,x2:X,y2:o.y+4,stroke:'#000'});
    mk(g,'text',{x:X,y:o.y+o.h+o.fs+1,'font-size':o.fs,'text-anchor':'middle'},v<0?'−'+(-v):String(v)); });
  o.yt.forEach(v=>{ const Y=sy(v);
    mk(g,'line',{x1:o.x,y1:Y,x2:o.x+4,y2:Y,stroke:'#000'}); mk(g,'line',{x1:o.x+o.w,y1:Y,x2:o.x+o.w-4,y2:Y,stroke:'#000'});
    mk(g,'text',{x:o.x-3,y:Y+o.fs*0.35,'font-size':o.fs,'text-anchor':'end'},v<0?'−'+(-v):String(v)); });
  const cb=o.cb;
  mk(g,'rect',{x:cb.x,y:o.y,width:cb.w,height:o.h,fill:'url(#'+gid+'cb)',stroke:'#000','stroke-width':0.8});
  cb.labels.forEach(l=>{ const Y=o.y+o.h*(1-l[0]);
    mk(g,'line',{x1:cb.x+cb.w,y1:Y,x2:cb.x+cb.w+3,y2:Y,stroke:'#000'});
    mk(g,'text',{x:cb.x+cb.w+4,y:Y+o.fs*0.35,'font-size':o.fs},l[1]);
  });
  mk(g,'text',{x:cb.x+cb.w+cb.lx,y:o.y+o.h/2,'font-size':o.fs*1.05,'text-anchor':'middle',transform:`rotate(-90 ${cb.x+cb.w+cb.lx} ${o.y+o.h/2})`},cb.title);
  if (o.title) mk(g,'text',{x:o.x+o.w/2,y:o.y-3,'font-size':o.titleFs,'text-anchor':'middle'},o.title);
  if (o.ylab) o.ylab.forEach((s,i)=>{ const X=o.x-o.ylx+i*o.fs*1.2;
    mk(g,'text',{x:X,y:o.y+o.h/2,'font-size':o.fs*1.05,'text-anchor':'middle',transform:`rotate(-90 ${X} ${o.y+o.h/2})`},s); });
  if (o.xlab) mk(g,'text',{x:o.x+o.w/2,y:o.y+o.h+o.fs*2.6,'font-size':o.fs*1.1,'text-anchor':'middle'},o.xlab);
  return g;
}

// ---------- Figure 1 ----------
(function(){
  const svg=document.getElementById('fig1'); addDefs(svg,'pl1');
  const ox=1690, oy=80;
  const cbL = {x:2038-ox,w:10,lx:38,title:'I (mJy beam⁻¹)'};
  mapPanel(svg,'pl1',{name:'fig1-map-l483',x:1838-ox,y:114-oy,w:188,h:186,xl:5.5,xr:-5.5,ytop:5.5,ybot:-5.5,xt:[5,0,-5],yt:[4,2,0,-2,-4],
    fs:11, titleFs:15, title:'L483', peak:[0.3,0.1], blob:[1.1,0.8], contours:[1.6],
    outline:[[4.2,2.6],[2.2,3.1],[0.5,2.4],[-0.8,1.5],[-2.5,0.8],[-3.6,-0.3],[-3.8,-1.6],[-2.2,-1.8],[-0.6,-1.3],[1.0,-0.9],[2.8,-0.8],[3.8,0.2],[4.6,1.5]],
    specks:[[3.5,-1.6,6,3],[-4.5,2.5,4,2],[2,3.8,5,2],[-1.5,3.5,3,2]],
    arrows:[[-1.8,0.2,-4.8,0.8],[1.8,-0.2,4.8,-1.0]], cross:9, beam:[6,3.5,18,14], bar:32, barText:'400 au', rms:'σrms=0.1 mJy beam⁻¹',
    cb:Object.assign({},cbL,{labels:[[0.92,'10¹'],[0.32,'10⁰']]}), ylab:['DEC offset (″)'], ylx:32});
  mapPanel(svg,'pl1',{name:'fig1-map-b335',x:1838-ox,y:341-oy,w:188,h:188,xl:7.9,xr:-14,ytop:11,ybot:-11,xt:[0,-10],yt:[10,5,0,-5,-10],
    fs:11, titleFs:15, title:'B335', peak:[0,0], blob:[2.2,2.8], contours:[1.3],
    outline:[[6,3],[5.2,6.5],[2,8.2],[-1.5,7.5],[-3.5,5.5],[-3.2,2.2],[-1.5,-0.2],[-5,-1.2],[-9,-3],[-13,-5.8],[-12.5,-8.2],[-8,-8.4],[-3,-6.5],[2,-5],[5.5,-3],[7,0.5]],
    specks:[[-12,1.8,3,2]], arrows:[[3.2,0,6.8,0],[-4,0,-12.5,0]], cross:9, beam:[5,3.5,14,12], bar:32, barText:'400 au', rms:'σrms=0.3 mJy beam⁻¹',
    cb:Object.assign({},cbL,{labels:[[0.66,'10¹'],[0,'10⁰']]}), ylab:['DEC offset (″)'], ylx:32});
  mapPanel(svg,'pl1',{name:'fig1-map-bhr71',x:1838-ox,y:569-oy,w:188,h:193,xl:5.5,xr:-5.5,ytop:5.5,ybot:-5.5,xt:[5,0,-5],yt:[4,2,0,-2,-4],
    fs:11, titleFs:15, title:'BHR71-IRS1', peak:[-0.2,0], blob:[1.3,1.1], contours:[1.6,2.2],
    outline:[[2.8,1.3],[1.5,2.5],[-1,2.6],[-2.8,1.8],[-3.6,0.2],[-3.2,-1.5],[-1.5,-2.6],[0.8,-2.4],[2.5,-1.6],[3.4,-0.3]],
    specks:[[4,2.4,4,2],[-2.4,3.6,3,2],[1.8,3.9,3,2],[-4.2,-1.8,3,2],[4.6,-2,3,2]],
    arrows:[[-0.2,2.5,-0.3,4.0],[-0.2,-2.4,-0.1,-4.3]], cross:9, beam:[6,3.5,18,14], bar:32, barText:'400 au', rms:'σrms=1.6 mJy beam⁻¹',
    cb:Object.assign({},cbL,{labels:[[0.78,'10²'],[0.18,'10¹']]}), ylab:['DEC offset (″)'], ylx:32, xlab:'RA offset (″)'});
})();

// ---------- Figure 2 ----------
(function(){
  const svg=document.getElementById('fig2'); addDefs(svg,'pl2');
  const ox=2580, oy=262;
  const colX=[2667,2900,3131], cbX=[2816,3047,3280], rowY=[302,462,623], W=[142,138,140], H=138;
  const titles=[['Integrated emission','HDO 3₁,₂-2₂,₁'],['Integrated emission','HDO 2₁,₁-2₁,₂'],['Integrated emission','H₂¹⁸O 3₁,₃-2₂,₀']];
  const srcLab=[['L483','DEC offset (″)'],['B335','DEC offset (″)'],['BHR71-IRS1','DEC offset (″)']];
  const rms=[['2.9','3.3','3.2'],['3.1','3.9','4.5'],['2.4','2.7','3.6']];
  const blobs=[[[0.35,0.25],[0.35,0.22],[0.45,0.28]],[[0.55,0.45],[0.5,0.5],[0.85,0.65]],[[0.3,0.3],[0.35,0.35],[0.7,0.35]]];
  const peaks=[[[0.35,0],[0.4,0],[0.35,0]],[[0,-0.1],[0,-0.1],[0,-0.1]],[[0.1,0],[0,0],[-0.1,0]]];
  const beams=[[[8,4.5,22,15],[8,4.5,22,15],[13,9,32,21]],[[9,11,24,23],[9,11,24,23],[19,17,46,37]],[[7,6,18,16],[7,6,18,16],[15,9,36,26]]];
  const bars=['200 au','100 au','200 au'];
  const cbl=[[[[0.9,'0.5'],[0.7,'0.4'],[0.5,'0.3'],[0.3,'0.2'],[0.12,'0.1']],[[0.9,'0.5'],[0.7,'0.4'],[0.5,'0.3'],[0.3,'0.2'],[0.12,'0.1']],[[0.73,'0.15'],[0.42,'0.10'],[0.12,'0.05']]],
             [[[0.93,'0.8'],[0.7,'0.6'],[0.46,'0.4'],[0.23,'0.2']],[[0.93,'0.8'],[0.7,'0.6'],[0.46,'0.4'],[0.23,'0.2']],[[0.8,'0.15'],[0.5,'0.10'],[0.2,'0.05']]],
             [[[0.85,'0.20'],[0.6,'0.15'],[0.35,'0.10'],[0.1,'0.05']],[[0.98,'0.20'],[0.72,'0.15'],[0.46,'0.10'],[0.2,'0.05']],[[0.85,'0.08'],[0.6,'0.06'],[0.35,'0.04'],[0.02,'0.02']]]];
  for(let r=0;r<3;r++) for(let c=0;c<3;c++){
    const specks = (r===0&&c===0)?[[-1.4,1.4,7,2.5],[1.6,0.5,3,2],[1.3,-0.6,2,2],[1.8,0.35,2,1.5]]:(r===2&&c===1)?[[1.6,1.3,1.5,1.5]]:[];
    mapPanel(svg,'pl2',{name:`fig2-map-r${r+1}-c${c+1}`,x:colX[c]-ox,y:rowY[r]-oy,w:W[c],h:H,xl:2,xr:-2,ytop:2,ybot:-2,xt:[2,0,-2],yt:[2,1,0,-1,-2],
      fs:8.5, titleFs:10, title:null, peak:peaks[r][c], blob:blobs[r][c], contours:null, outline:null, specks:specks,
      cross:7, beam:beams[r][c], bar:58, barText:bars[r], rms:`σrms = ${rms[r][c]} mJy beam⁻¹`,
      cb:{x:cbX[c]-ox,w:7,lx:32,title:'I (Jy km s⁻¹ beam⁻¹)',labels:cbl[r][c]},
      ylab: c===0?srcLab[r]:null, ylx:42, xlab: r===2?'RA offset (″)':null});
    if(r===0){
      const t1=mk(svg,'text',{x:colX[c]-ox+W[c]/2,y:rowY[0]-oy-20,'font-size':10.5,'text-anchor':'middle'},titles[c][0]);
      
      
      const t2=mk(svg,'text',{x:colX[c]-ox+W[c]/2,y:rowY[0]-oy-7,'font-size':10.5,'text-anchor':'middle'},titles[c][1]);
      
      
    }
  }
})();

// ---------- Figure 3 spectra ----------
(function(){
  const svg=document.getElementById('fig3');
  const ox=3420, oy=90;
  const colX=[3557,3777,3997], W=160, rowY=[125,348,570], rowH=[191,189,188];
  const panels = [
    [specL483a,fitAmpL483a,fitCenL483a,fitSigL483a,yLimL483,yTicksL483,yLabL483,true,null],
    [specL483b,fitAmpL483b,fitCenL483b,fitSigL483b,yLimL483,yTicksL483,yLabL483,true,null],
    [specL483c,fitAmpL483c,fitCenL483c,fitSigL483c,yLimL483c,yTicksL483c,yLabL483c,true,null],
    [specB335a,fitAmpB335a,fitCenB335a,fitSigB335a,yLimB335,yTicksB335,yLabB335,false,null],
    [specB335b,fitAmpB335b,fitCenB335b,fitSigB335b,yLimB335,yTicksB335,yLabB335,false,null],
    [specB335c,fitAmpB335c,fitCenB335c,fitSigB335c,yLimB335c,yTicksB335c,yLabB335c,false,null],
    [specBHRa,fitAmpBHRa,fitCenBHRa,fitSigBHRa,yLimBHR,yTicksBHR,yLabBHR,false,null],
    [specBHRb,fitAmpBHRb,fitCenBHRb,fitSigBHRb,yLimBHR,yTicksBHR,yLabBHR,false,null],
    [specBHRc,fitAmpBHRc,fitCenBHRc,fitSigBHRc,yLimBHRc,yTicksBHRc,yLabBHRc,false,[dmeAmpBHRc,dmeCenBHRc,dmeSigBHRc]]];
  const colTitles=[['HDO 3','1,2','-2','2,1'],['HDO 2','1,1','-2','1,2']];
  const rowNames=['L483','B335','BHR71-IRS1'];
  const gauss=(v,A,c,s)=>A.reduce((t,a,i)=>t+a*Math.exp(-0.5*Math.pow((v-c[i])/s[i],2)),0);
  panels.forEach((p,i)=>{
    const r=Math.floor(i/3), c=i%3;
    const x0=colX[c]-ox, y0=rowY[r]-oy, h=rowH[r];
    const g=mk(svg,'g',{});
    
    
    const xs=v=>x0+(v+15)/30*W;
    const ys=v=>y0+(p[4][1]-v)/(p[4][1]-p[4][0])*h;
    const cid='sp'+i;
    const cpath=mk(mk(g,'defs',{}),'clipPath',{id:cid});
    mk(cpath,'rect',{x:x0,y:y0,width:W,height:h});
    const inner=mk(g,'g',{'clip-path':`url(#${cid})`});
    let d='';
    p[0].forEach((val,k)=>{ const xa=xs(vel[k]-0.5), xb=xs(vel[k]+0.5), y=ys(val);
      d += (k===0?`M${xa},${y}`:`L${xa},${y}`)+` L${xb},${y}`; });
    const sp=mk(inner,'path',{d:d,fill:'none',stroke:'#6f7f92','stroke-width':2.2});
    
    
    const zl=mk(inner,'line',{x1:xs(-10),y1:ys(0),x2:xs(10),y2:ys(0),stroke:'#f05050','stroke-width':1.5,'stroke-dasharray':'5,3'});
    
    
    const fine=[]; for(let v=-15;v<=15.001;v+=0.25) fine.push(v);
    if(p[7] && p[1].length>1){
      p[1].forEach((a,k)=>{
        const cd=fine.map((v,j)=>(j?'L':'M')+xs(v)+','+ys(a*Math.exp(-0.5*Math.pow((v-p[2][k])/p[3][k],2)))).join(' ');
        const cp=mk(inner,'path',{d:cd,fill:'none',stroke:'#f5a623','stroke-width':1.6,'stroke-dasharray':'1.5,2.5'});
        
        
      });
    }
    if(p[8]){
      const dd=fine.map((v,j)=>(j?'L':'M')+xs(v)+','+ys(gauss(v,p[8][0],p[8][1],p[8][2]))).join(' ');
      const gp=mk(inner,'path',{d:dd,fill:'none',stroke:'#0a7d0a','stroke-width':1.8});
      
      
    }
    const fd=fine.map((v,j)=>(j?'L':'M')+xs(v)+','+ys(gauss(v,p[1],p[2],p[3]))).join(' ');
    const fp=mk(inner,'path',{d:fd,fill:'none',stroke:'#1020d0','stroke-width':2});
    
    
    if(p[7]){
      const dash=mk(inner,'path',{d:fd,fill:'none',stroke:'#f5a623','stroke-width':1.2,'stroke-dasharray':'1.5,3'});
      
      
    }
    mk(g,'rect',{x:x0,y:y0,width:W,height:h,fill:'none',stroke:'#000','stroke-width':1.6});
    for(let v=-15;v<=15;v+=1.5){ const X=xs(v), L=(Math.abs(v%7.5)<0.01)?7:3.5;
      mk(g,'line',{x1:X,y1:y0+h,x2:X,y2:y0+h-L,stroke:'#000'}); mk(g,'line',{x1:X,y1:y0,x2:X,y2:y0+L,stroke:'#000'}); }
    xTickValues.forEach((v,k)=>{ const t=mk(g,'text',{x:xs(v),y:y0+h+17,'font-size':15,'text-anchor':'middle'},xTickLabels[k]);
      
       });
    const step=(p[5][1]-p[5][0])/5;
    for(let v=p[4][0]-p[4][0]%step; v<=p[4][1]; v+=step){ const Y=ys(v); if(Y<y0||Y>y0+h) continue;
      mk(g,'line',{x1:x0,y1:Y,x2:x0+3.5,y2:Y,stroke:'#000'}); mk(g,'line',{x1:x0+W,y1:Y,x2:x0+W-3.5,y2:Y,stroke:'#000'}); }
    p[5].forEach((v,k)=>{ const Y=ys(v);
      mk(g,'line',{x1:x0-5,y1:Y,x2:x0+7,y2:Y,stroke:'#000','stroke-width':1.3}); mk(g,'line',{x1:x0+W-7,y1:Y,x2:x0+W+5,y2:Y,stroke:'#000','stroke-width':1.3});
      const t=mk(g,'text',{x:x0-7,y:Y+5,'font-size':15,'text-anchor':'end'},p[6][k]);
      
       });
    if(r===2){ const t=mk(g,'text',{x:x0+W/2,y:y0+h+37,'font-size':15,'text-anchor':'middle'});
      t.innerHTML='<tspan font-style="italic">v</tspan> - <tspan font-style="italic">v</tspan><tspan font-size="10" dy="3">lsr</tspan><tspan dy="-3"> (km s</tspan><tspan font-size="10" dy="-6">−1</tspan><tspan dy="6">)</tspan>';
      
       }
    if(r===0){ const t=mk(g,'text',{x:x0+W/2,y:y0-12,'font-size':19,'text-anchor':'middle'});
      if(c<2) t.innerHTML=`<tspan>${colTitles[c][0]}</tspan><tspan font-size="12" dy="5">${colTitles[c][1]}</tspan><tspan dy="-5">${colTitles[c][2]}</tspan><tspan font-size="12" dy="5">${colTitles[c][3]}</tspan>`;
      else t.innerHTML='<tspan>H</tspan><tspan font-size="12" dy="5">2</tspan><tspan font-size="12" dy="-12">18</tspan><tspan dy="7">O 3</tspan><tspan font-size="12" dy="5">1,3</tspan><tspan dy="-5">-2</tspan><tspan font-size="12" dy="5">2,0</tspan>';
      
       }
    if(c===0){ const cy=y0+h/2, X1=3468-ox, X2=3494-ox;
      const t1=mk(g,'text',{x:X1,y:cy,'font-size':19,'text-anchor':'middle',transform:`rotate(-90 ${X1} ${cy})`},rowNames[r]);
      
      
      const t2=mk(g,'text',{x:X2,y:cy,'font-size':18,'text-anchor':'middle',transform:`rotate(-90 ${X2} ${cy})`});
      t2.innerHTML='<tspan font-style="italic">I</tspan> (Jy beam<tspan font-size="12" dy="-7">−1</tspan><tspan dy="7">)</tspan>';
      
       }
  });
})();
</script>
</body></html>
